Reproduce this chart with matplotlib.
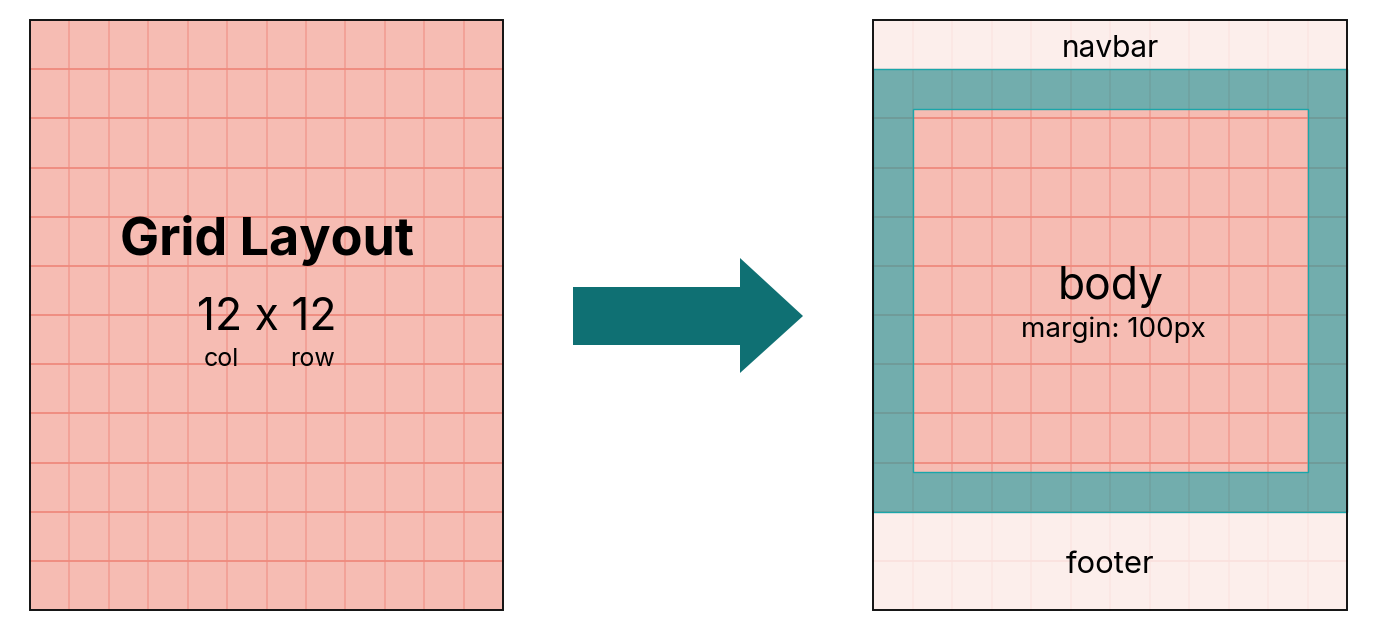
import matplotlib.pyplot as plt
from matplotlib.patches import Rectangle, Polygon, PathPatch
from matplotlib.path import Path

plt.rcParams["font.family"] = ["Inter", "DejaVu Sans"]

# grid description
n_cols = 12
n_rows = 12
title = "Grid Layout"
grid_size_text = "12 x 12"
axis_names = ["col", "row"]
section_names = ["navbar", "body", "footer"]
body_note = "margin: 100px"

# panel boxes in pixel space: (x0, y0, x1, y1)
left_box = (30, 20, 503, 610)
right_box = (873, 20, 1347, 610)

PINK = "#F6BCB3"
LINE_H = "#EF8A7D"
LINE_V = "#F29B90"
TEAL = "#0F7073"


def draw_grid(ax, box):
    x0, y0, x1, y1 = box
    cw = (x1 - x0) / n_cols
    rh = (y1 - y0) / n_rows
    ax.add_patch(Rectangle((x0, y0), x1 - x0, y1 - y0, facecolor=PINK,
                           edgecolor="none", zorder=1))
    for i in range(1, n_cols):
        ax.plot([x0 + i * cw] * 2, [y0, y1], color=LINE_V, lw=1.1, zorder=2)
    for j in range(1, n_rows):
        ax.plot([x0, x1], [y0 + j * rh] * 2, color=LINE_H, lw=1.3, zorder=2)
    return cw, rh


def draw_border(ax, box):
    x0, y0, x1, y1 = box
    ax.add_patch(Rectangle((x0, y0), x1 - x0, y1 - y0, facecolor="none",
                           edgecolor="#111111", lw=1.4, zorder=10))


fig = plt.figure(figsize=(13.8, 6.36), dpi=100)
ax = fig.add_axes([0, 0, 1, 1])
ax.set_xlim(0, 1380)
ax.set_ylim(636, 0)
ax.axis("off")

# left panel
draw_grid(ax, left_box)
draw_border(ax, left_box)
lcx = (left_box[0] + left_box[2]) / 2
ax.text(lcx, 255, title, fontsize=37.5, fontweight="bold", ha="center",
        va="baseline", zorder=11)
ax.text(lcx, 330, grid_size_text, fontsize=32, ha="center", va="baseline",
        zorder=11)
ax.text(221, 366, axis_names[0], fontsize=18, ha="center", va="baseline",
        zorder=11)
ax.text(313, 366, axis_names[1], fontsize=18, ha="center", va="baseline",
        zorder=11)

# arrow
arrow_pts = [(573, 287), (740, 287), (740, 258), (803, 316),
             (740, 373), (740, 345), (573, 345)]
ax.add_patch(Polygon(arrow_pts, closed=True, facecolor=TEAL,
                     edgecolor="none", zorder=3))

# right panel
cw, rh = draw_grid(ax, right_box)
x0, y0, x1, y1 = right_box
top = y0 + rh
bottom = y0 + 10 * rh
margin = 40
# navbar and footer faded
ax.add_patch(Rectangle((x0, y0), x1 - x0, rh, facecolor="white", alpha=0.75,
                       edgecolor="none", zorder=4))
ax.add_patch(Rectangle((x0, bottom), x1 - x0, y1 - bottom, facecolor="white",
                       alpha=0.75, edgecolor="none", zorder=4))
# teal margin frame with a hole for the body
bx0, by0, bx1, by1 = x0 + cw, top + margin, x0 + 11 * cw, bottom - margin
verts = [(x0, top), (x1, top), (x1, bottom), (x0, bottom), (x0, top),
         (bx0, by0), (bx0, by1), (bx1, by1), (bx1, by0), (bx0, by0)]
codes = [Path.MOVETO, Path.LINETO, Path.LINETO, Path.LINETO, Path.CLOSEPOLY,
         Path.MOVETO, Path.LINETO, Path.LINETO, Path.LINETO, Path.CLOSEPOLY]
ax.add_patch(PathPatch(Path(verts, codes), facecolor="#1AA4AA", alpha=0.6,
                       edgecolor="none", zorder=5))
ax.add_patch(Rectangle((x0, top), x1 - x0, bottom - top, facecolor="none",
                       edgecolor="#1AA6AA", lw=1.0, zorder=6))
ax.add_patch(Rectangle((bx0, by0), bx1 - bx0, by1 - by0, facecolor="none",
                       edgecolor="#1AA6AA", lw=1.0, zorder=6))
draw_border(ax, right_box)

rcx = (x0 + x1) / 2
ax.text(rcx, 57, section_names[0], fontsize=21.5, ha="center", va="baseline",
        zorder=11)
ax.text(rcx + 1, 299, section_names[1], fontsize=32, ha="center",
        va="baseline", zorder=11)
ax.text(rcx + 3, 337, body_note, fontsize=20, ha="center", va="baseline",
        zorder=11)
ax.text(rcx, 573, section_names[2], fontsize=22.3, ha="center", va="baseline",
        zorder=11)

fig.savefig("out.png", dpi=100)
plt.close(fig)
